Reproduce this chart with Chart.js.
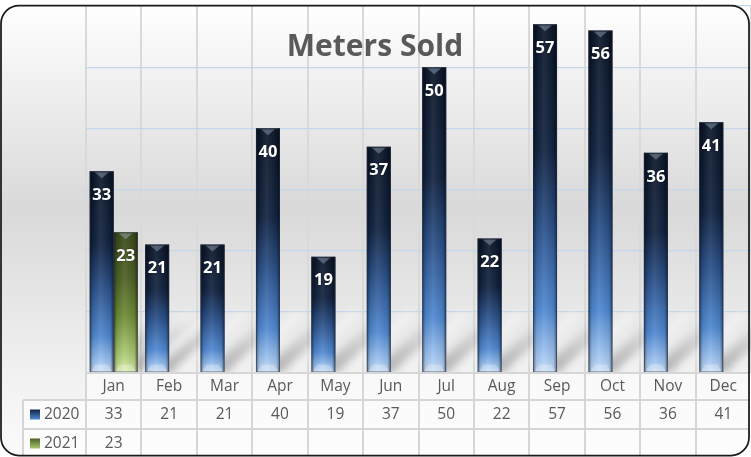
<!DOCTYPE html>
<html>
<head>
<meta charset="utf-8">
<script src="https://cdn.jsdelivr.net/npm/chart.js@4/dist/chart.umd.min.js"></script>
<style>
  html, body { margin: 0; padding: 0; background: #ffffff; }
  #wrap { width: 751px; height: 457px; }
</style>
</head>
<body>
<div id="wrap"><canvas id="metersChart" width="751" height="457"></canvas></div>
<script>
const chartTitle = 'Meters Sold';
const months = ['Jan', 'Feb', 'Mar', 'Apr', 'May', 'Jun', 'Jul', 'Aug', 'Sep', 'Oct', 'Nov', 'Dec'];
const seriesNames = ['2020', '2021'];
const sold2020 = [33, 21, 21, 40, 19, 37, 50, 22, 57, 56, 36, 41];
const sold2021 = [23, null, null, null, null, null, null, null, null, null, null, null];
const yTicks = { min: 0, max: 60, step: 10 };

const FONT = '"Open Sans", "DejaVu Sans", sans-serif';
const blueStops = [[0, '#0b1628'], [0.36, '#122340'], [0.58, '#2a5089'], [0.82, '#5089d2'], [0.94, '#9cc2f0'], [1, '#c6ddf7']];
const greenStops = [[0, '#3a481a'], [0.33, '#4d6124'], [0.6, '#6e8c36'], [0.85, '#a6c76e'], [1, '#d8eca8']];

function vGradient(ctx, top, bottom, stops) {
    const g = ctx.createLinearGradient(0, top, 0, bottom);
    stops.forEach(([o, c]) => g.addColorStop(o, c));
    return g;
}

// per-bar vertical gradient, dark on top, light at the base
function barFill(stops) {
    return (c) => {
        const y = c.chart.scales && c.chart.scales.y;
        if (!y || c.raw == null) return stops[0][1];
        const top = y.getPixelForValue(c.raw);
        const base = y.getPixelForValue(0);
        if (!isFinite(top) || !isFinite(base) || base === top) return stops[0][1];
        return vGradient(c.chart.ctx, top, base, stops);
    };
}

function framePath(ctx) {
    ctx.beginPath();
    ctx.roundRect(1, 5.5, 748, 450, 18);
}

const tableLayout = { labelLeft: 23, headH: 27, rowH: 29 };

const decorPlugin = {
    id: 'decor',
    beforeDraw(chart) {
        const ctx = chart.ctx;
        ctx.save();
        framePath(ctx);
        const g = ctx.createLinearGradient(0, 5, 0, 456);
        g.addColorStop(0, '#ffffff');
        g.addColorStop(0.45, '#d9d9d9');
        g.addColorStop(0.82, '#f1f1f1');
        g.addColorStop(1, '#fbfbfb');
        ctx.fillStyle = g;
        ctx.fill();
        ctx.restore();
    },
    beforeDatasetsDraw(chart) {
        // soft diagonal shadows thrown from the foot of each bar
        const ctx = chart.ctx;
        const area = chart.chartArea;
        ctx.save();
        ctx.beginPath();
        ctx.rect(area.left, area.top, area.right - area.left, area.bottom - area.top);
        ctx.clip();
        ctx.filter = 'blur(4px)';
        chart.data.datasets.forEach((ds, di) => {
            chart.getDatasetMeta(di).data.forEach((bar, i) => {
                if (ds.data[i] == null) return;
                const p = bar.getProps(['x', 'y', 'base', 'width'], true);
                const l = p.x - p.width / 2, r = p.x + p.width / 2;
                const len = Math.min(80, p.base - p.y);
                const dx = len * 0.9, dy = len * 0.75;
                const g = ctx.createLinearGradient(l, p.base, l + dx, p.base - dy);
                g.addColorStop(0, 'rgba(90,90,90,0.5)');
                g.addColorStop(1, 'rgba(90,90,90,0)');
                ctx.fillStyle = g;
                ctx.beginPath();
                ctx.moveTo(l + 4, p.base);
                ctx.lineTo(r + 4, p.base);
                ctx.lineTo(r + dx, p.base - dy);
                ctx.lineTo(l + dx, p.base - dy);
                ctx.closePath();
                ctx.fill();
                ctx.fillStyle = 'rgba(255,255,255,0.6)';
                ctx.beginPath();
                ctx.moveTo(r + 4, p.base);
                ctx.lineTo(r + 12, p.base);
                ctx.lineTo(r + dx + 8, p.base - dy);
                ctx.lineTo(r + dx, p.base - dy);
                ctx.closePath();
                ctx.fill();
            });
        });
        ctx.restore();
    },
    afterDatasetsDraw(chart) {
        const ctx = chart.ctx;
        ctx.save();
        chart.data.datasets.forEach((ds, di) => {
            chart.getDatasetMeta(di).data.forEach((bar, i) => {
                const v = ds.data[i];
                if (v == null) return;
                const p = bar.getProps(['x', 'y', 'base', 'width'], true);
                const l = p.x - p.width / 2, r = p.x + p.width / 2, w = p.width;
                // rounded cylinder shading across the bar
                const h = ctx.createLinearGradient(l, 0, r, 0);
                h.addColorStop(0, 'rgba(0,0,0,0.45)');
                h.addColorStop(0.14, 'rgba(0,0,0,0.08)');
                h.addColorStop(0.45, 'rgba(255,255,255,0.08)');
                h.addColorStop(0.86, 'rgba(0,0,0,0.08)');
                h.addColorStop(1, 'rgba(0,0,0,0.5)');
                ctx.fillStyle = h;
                ctx.fillRect(l, p.y, w, p.base - p.y);
                // top bevel chevron
                ctx.fillStyle = 'rgba(190,205,230,0.35)';
                ctx.beginPath();
                ctx.moveTo(p.x - 7, p.y + 1);
                ctx.lineTo(p.x + 7, p.y + 1);
                ctx.lineTo(p.x, p.y + 7);
                ctx.closePath();
                ctx.fill();
                // bottom bevel
                ctx.fillStyle = 'rgba(255,255,255,0.28)';
                ctx.beginPath();
                ctx.moveTo(l + 1, p.base);
                ctx.lineTo(l + 6, p.base - 8);
                ctx.lineTo(r - 6, p.base - 8);
                ctx.lineTo(r - 1, p.base);
                ctx.closePath();
                ctx.fill();
                ctx.strokeStyle = 'rgba(40,50,70,0.55)';
                ctx.lineWidth = 1;
                ctx.strokeRect(l + 0.5, p.y + 0.5, w - 1, p.base - p.y - 1);
                // value label inside the top of the bar
                ctx.font = 'bold 16.5px ' + FONT;
                ctx.fillStyle = '#ffffff';
                ctx.textAlign = 'center';
                ctx.textBaseline = 'middle';
                ctx.shadowColor = 'rgba(0,0,0,0.5)';
                ctx.shadowBlur = 2;
                ctx.fillText(String(v), p.x, p.y + 24);
                ctx.shadowBlur = 0;
            });
        });
        ctx.restore();
    },
    afterDraw(chart) {
        const ctx = chart.ctx;
        const area = chart.chartArea;
        const xs = chart.scales.x;
        const colW = (area.right - area.left) / months.length;
        const top = area.bottom;
        const rowTops = [top, top + tableLayout.headH, top + tableLayout.headH + tableLayout.rowH];
        const bottom = 457;
        ctx.save();
        framePath(ctx);
        ctx.clip();

        // data table cells
        ctx.fillStyle = 'rgba(255,255,255,0.55)';
        ctx.fillRect(area.left, top, area.right - area.left, tableLayout.headH);
        ctx.fillRect(tableLayout.labelLeft, rowTops[1], area.right - tableLayout.labelLeft, bottom - rowTops[1]);

        ctx.strokeStyle = '#d6d6d6';
        ctx.lineWidth = 2;
        ctx.beginPath();
        ctx.moveTo(area.left, top);
        ctx.lineTo(area.right, top);
        ctx.moveTo(tableLayout.labelLeft, rowTops[1]);
        ctx.lineTo(area.right, rowTops[1]);
        ctx.moveTo(tableLayout.labelLeft, rowTops[2]);
        ctx.lineTo(area.right, rowTops[2]);
        ctx.moveTo(tableLayout.labelLeft, rowTops[1]);
        ctx.lineTo(tableLayout.labelLeft, bottom);
        for (let i = 0; i <= months.length; i++) {
            const x = Math.round(area.left + i * colW);
            ctx.moveTo(x, top);
            ctx.lineTo(x, bottom);
        }
        ctx.stroke();

        ctx.font = '15.5px ' + FONT;
        ctx.fillStyle = '#595959';
        ctx.textAlign = 'center';
        ctx.textBaseline = 'middle';
        months.forEach((m, i) => {
            const x = xs.getPixelForValue(i);
            ctx.fillText(m, x, top + tableLayout.headH / 2);
            if (sold2020[i] != null) ctx.fillText(String(sold2020[i]), x, rowTops[1] + tableLayout.rowH / 2);
            if (sold2021[i] != null) ctx.fillText(String(sold2021[i]), x, rowTops[2] + tableLayout.rowH / 2);
        });

        // row headers with legend keys
        const keyStops = [blueStops, greenStops];
        seriesNames.forEach((name, si) => {
            const cy = rowTops[si + 1] + tableLayout.rowH / 2;
            ctx.fillStyle = vGradient(ctx, cy - 5, cy + 5, [[0, keyStops[si][1][1]], [1, keyStops[si][3][1]]]);
            ctx.fillRect(30, cy - 5, 10, 10);
            ctx.fillStyle = '#595959';
            ctx.textAlign = 'left';
            ctx.fillText(name, 44, cy);
        });

        // title overlaid on the plot
        ctx.font = 'bold 30px ' + FONT;
        ctx.fillStyle = '#595959';
        ctx.textAlign = 'center';
        ctx.textBaseline = 'alphabetic';
        ctx.fillText(chartTitle, 375, 56);
        ctx.restore();

        // rounded outer frame
        ctx.save();
        framePath(ctx);
        ctx.strokeStyle = '#1a1a1a';
        ctx.lineWidth = 1.75;
        ctx.stroke();
        ctx.restore();
    }
};

new Chart(document.getElementById('metersChart'), {
    type: 'bar',
    data: {
        labels: months,
        datasets: [
            { label: seriesNames[0], data: sold2020, backgroundColor: barFill(blueStops), borderWidth: 0 },
            { label: seriesNames[1], data: sold2021, backgroundColor: barFill(greenStops), borderWidth: 0 }
        ]
    },
    options: {
        responsive: false,
        animation: false,
        devicePixelRatio: 1,
        categoryPercentage: 0.866,
        barPercentage: 1,
        layout: { padding: { left: 86, top: 6, right: 0, bottom: 84 } },
        plugins: {
            legend: { display: false },
            title: { display: false },
            tooltip: { enabled: false }
        },
        scales: {
            x: {
                offset: true,
                grid: { offset: true, color: '#d9d9d9', lineWidth: 2, drawTicks: false },
                border: { display: false },
                ticks: { display: false }
            },
            y: {
                min: yTicks.min,
                max: yTicks.max,
                grid: { color: '#c4d6ec', lineWidth: 1.2, drawTicks: false },
                border: { display: false },
                ticks: { display: false, stepSize: yTicks.step }
            }
        }
    },
    plugins: [decorPlugin]
});
</script>
</body>
</html>
